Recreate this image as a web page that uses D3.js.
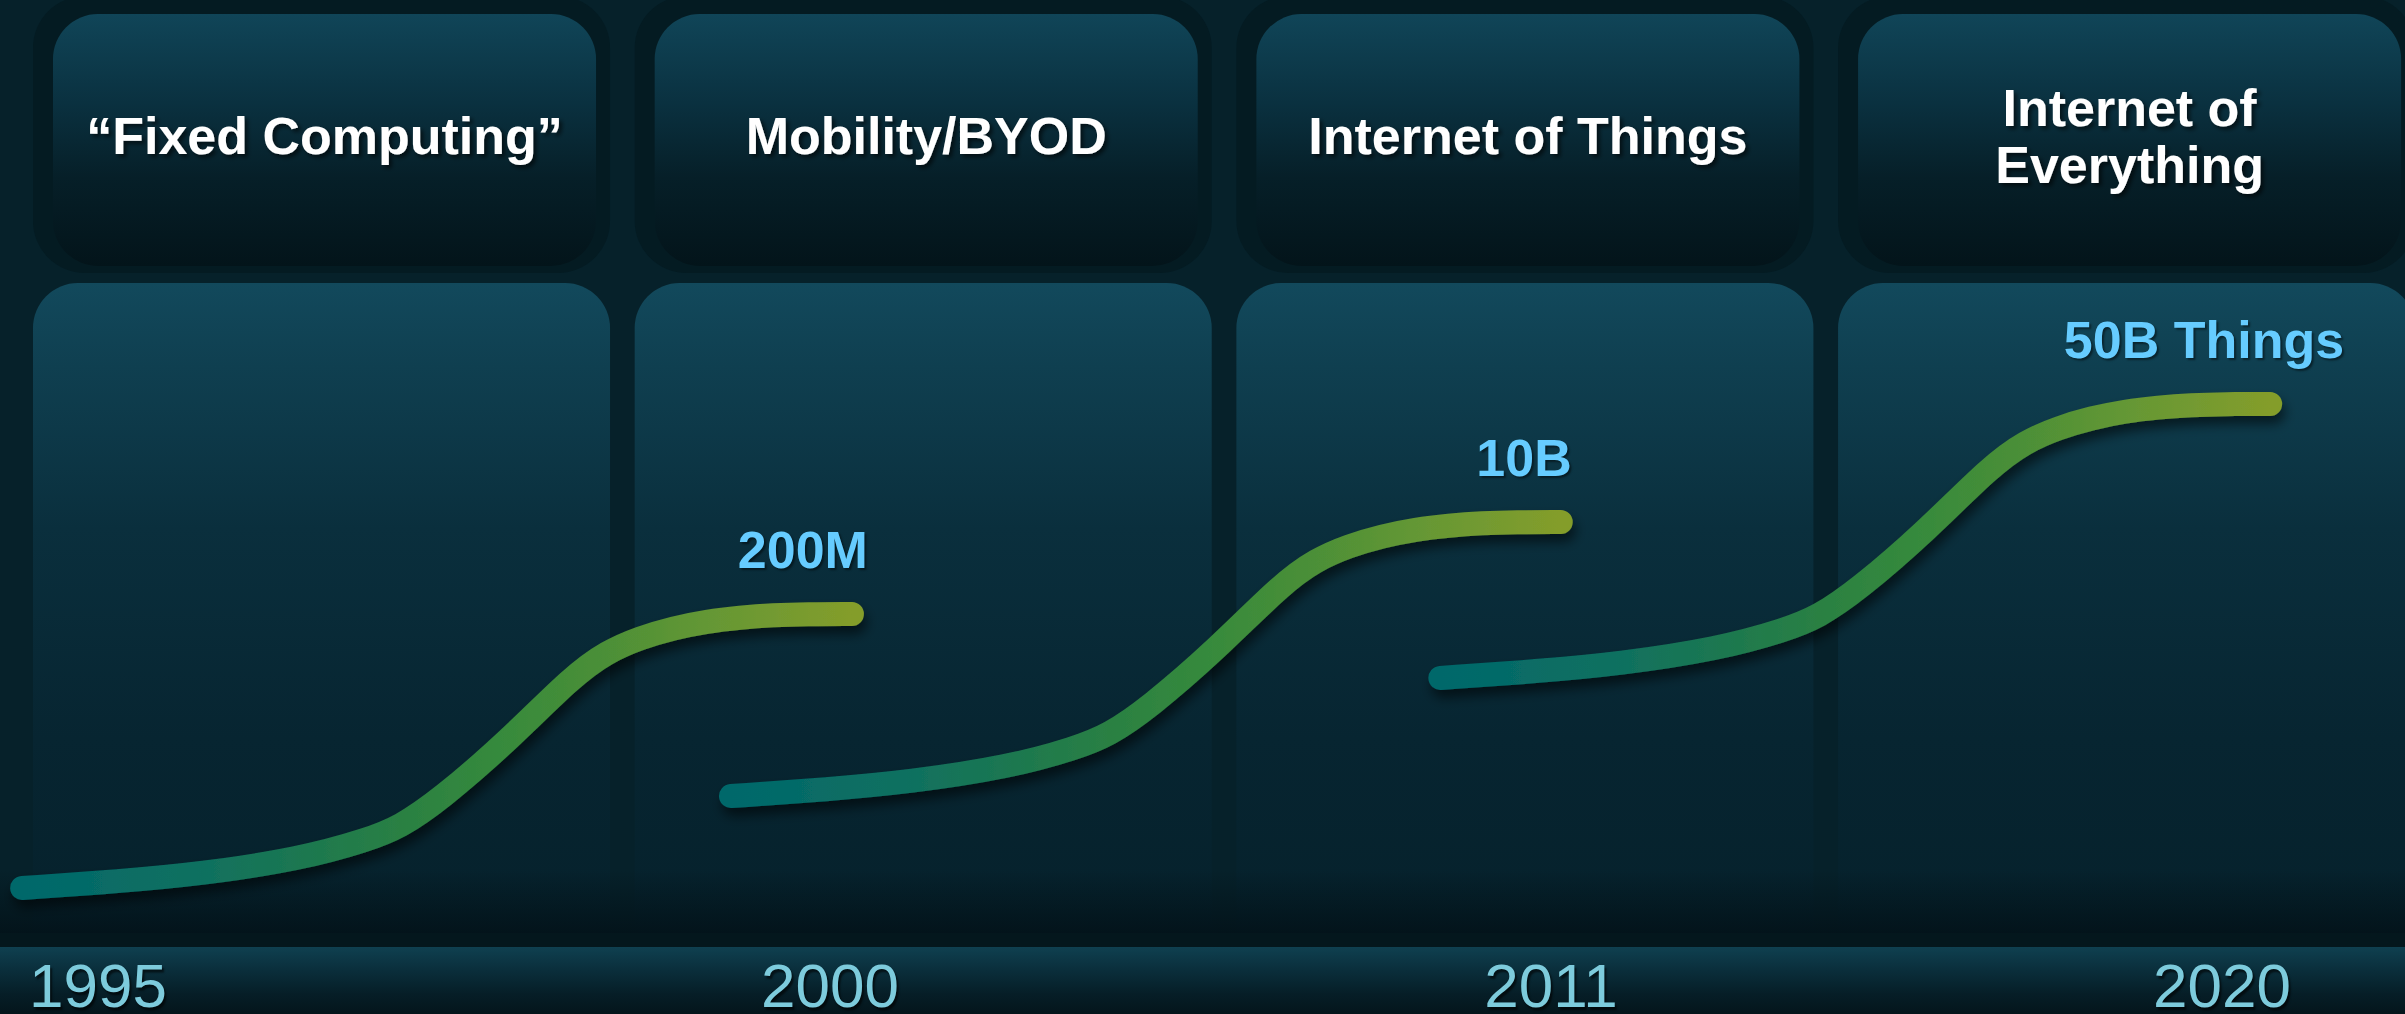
<!DOCTYPE html>
<html>
<head>
<meta charset="utf-8">
<script src="https://cdn.jsdelivr.net/npm/d3@7"></script>
<style>
html, body { margin: 0; padding: 0; background: #06212a; overflow: hidden; }
svg { display: block; }
</style>
</head>
<body>
<svg id="viz"></svg>
<script>
var width = 2405;
var height = 1014;

// eras across the top, years along the bottom
var eras = ["\u201cFixed Computing\u201d", "Mobility/BYOD", "Internet of Things", "Internet of\nEverything"];
var years = [1995, 2000, 2011, 2020];
var valueLabels = ["200M", "10B", "50B Things"];

// growth curves, [era position, adoption level 0-100]
var curve1 = [[-0.018, 0], [0.145, 1.4], [0.278, 2.9], [0.444, 6.0], [0.555, 9.9], [0.610, 12.6], [0.676, 18.2],
    [0.788, 30.2], [0.897, 43.8], [0.954, 48.8], [1.009, 51.7], [1.064, 53.7], [1.120, 55.1], [1.175, 55.9],
    [1.230, 56.4], [1.286, 56.6], [1.361, 56.6]];
var curve2 = [[1.160, 19.0], [1.323, 20.4], [1.456, 21.9], [1.622, 25.0], [1.733, 28.9], [1.788, 31.6], [1.854, 37.2],
    [1.966, 49.2], [2.075, 62.8], [2.132, 67.8], [2.187, 70.7], [2.242, 72.7], [2.298, 74.1], [2.353, 74.9],
    [2.408, 75.4], [2.464, 75.6], [2.539, 75.6]];
var curve3 = [[2.339, 43.4], [2.502, 44.8], [2.635, 46.3], [2.801, 49.4], [2.912, 53.3], [2.967, 56.0], [3.033, 61.6],
    [3.145, 73.6], [3.254, 87.2], [3.311, 92.2], [3.366, 95.1], [3.421, 97.1], [3.477, 98.5], [3.532, 99.3],
    [3.587, 99.8], [3.643, 100], [3.718, 100]];
var curves = [curve1, curve2, curve3];

// label placement next to curve ends
var labelDx = [16, 11, 74];

var svg = d3.select("#viz")
    .attr("width", width)
    .attr("height", height);

var font = "'Liberation Sans', Arial, Helvetica, sans-serif";

var col = d3.scaleBand()
    .domain(eras)
    .range([33, 2415.1])
    .paddingInner(0.041)
    .paddingOuter(0);

var x = d3.scaleLinear()
    .domain([0, 4])
    .range([33, 33 + 4 * 601.7]);

var y = d3.scaleLinear()
    .domain([0, 100])
    .range([888, 404]);

var yearX = d3.scaleLinear()
    .domain(years)
    .range([98, 830, 1551, 2222]);

//defs
var defs = svg.append("defs");

function vGrad(id, stops) {
    var g = defs.append("linearGradient")
        .attr("id", id)
        .attr("x1", 0).attr("y1", 0).attr("x2", 0).attr("y2", 1);
    stops.forEach(function (s) {
        g.append("stop").attr("offset", s[0]).attr("stop-color", s[1]).attr("stop-opacity", s[2] == null ? 1 : s[2]);
    });
}

vGrad("cardGrad", [[0, "#104558"], [0.35, "#0a3140"], [0.65, "#061f28"], [1, "#03141a"]]);
vGrad("panelGrad", [[0, "#12495c"], [0.12, "#0f3f50"], [0.35, "#0a2f3d"], [0.65, "#072531"], [1, "#05202a"]]);
vGrad("fadeGrad", [[0, "#03131a", 0], [1, "#03131a", 0.95]]);
vGrad("bandGrad", [[0, "#0f4050"], [0.35, "#0a2e3b"], [0.7, "#061e27"], [1, "#04151b"]]);

var curveGrad = defs.append("linearGradient")
    .attr("id", "curveGrad")
    .attr("x1", 0).attr("y1", 0).attr("x2", 1).attr("y2", 0);
[[0, "#00686b"], [0.21, "#0f7060"], [0.33, "#1b7751"], [0.455, "#2a8043"], [0.575, "#368a3c"],
    [0.7, "#4b8f37"], [0.82, "#639735"], [1, "#849d2b"]].forEach(function (s) {
    curveGrad.append("stop").attr("offset", s[0]).attr("stop-color", s[1]);
});

var shadow = defs.append("filter").attr("id", "lineShadow")
    .attr("x", "-10%").attr("y", "-20%").attr("width", "130%").attr("height", "150%");
shadow.append("feDropShadow")
    .attr("dx", 3).attr("dy", 8).attr("stdDeviation", 6)
    .attr("flood-color", "#000").attr("flood-opacity", 0.55);

var textShadow = defs.append("filter").attr("id", "textShadow")
    .attr("x", "-10%").attr("y", "-30%").attr("width", "130%").attr("height", "170%");
textShadow.append("feDropShadow")
    .attr("dx", 3).attr("dy", 3).attr("stdDeviation", 2)
    .attr("flood-color", "#000").attr("flood-opacity", 0.6);

//background
svg.append("rect")
    .attr("width", width).attr("height", height)
    .attr("fill", "#06212a");

//top cards
var cards = svg.selectAll(".card")
    .data(eras)
    .enter().append("g")
    .attr("class", "card");

cards.append("rect")
    .attr("x", function (d) { return col(d); })
    .attr("y", -4)
    .attr("width", col.bandwidth())
    .attr("height", 277)
    .attr("rx", 52)
    .attr("fill", "#041b22");

cards.append("rect")
    .attr("x", function (d) { return col(d) + 20; })
    .attr("y", 14)
    .attr("width", col.bandwidth() - 34)
    .attr("height", 252)
    .attr("rx", 45)
    .attr("fill", "url(#cardGrad)");

//lower panels
svg.selectAll(".panel")
    .data(eras)
    .enter().append("rect")
    .attr("class", "panel")
    .attr("x", function (d) { return col(d); })
    .attr("y", 283)
    .attr("width", col.bandwidth())
    .attr("height", 700)
    .attr("rx", 45)
    .attr("fill", "url(#panelGrad)");

svg.append("rect")
    .attr("x", 0).attr("y", 870)
    .attr("width", width).attr("height", 63)
    .attr("fill", "url(#fadeGrad)");

svg.append("rect")
    .attr("x", 0).attr("y", 933)
    .attr("width", width).attr("height", 14)
    .attr("fill", "#04171d");

svg.append("rect")
    .attr("x", 0).attr("y", 947)
    .attr("width", width).attr("height", height - 947)
    .attr("fill", "url(#bandGrad)");

//header text
var heads = svg.selectAll(".head")
    .data(eras)
    .enter().append("text")
    .attr("class", "head")
    .attr("text-anchor", "middle")
    .attr("font-family", font)
    .attr("font-weight", "bold")
    .attr("font-size", 52)
    .attr("fill", "#ffffff")
    .attr("filter", "url(#textShadow)");

heads.each(function (d) {
    var lines = d.split("\n");
    var cx = col(d) + 20 + (col.bandwidth() - 34) / 2;
    var y0 = 154 - (lines.length - 1) * 57 / 2;
    d3.select(this).selectAll("tspan")
        .data(lines)
        .enter().append("tspan")
        .attr("x", cx)
        .attr("y", function (l, i) { return y0 + i * 57; })
        .text(function (l) { return l; });
});

//curves
var line = d3.line()
    .x(function (d) { return x(d[0]); })
    .y(function (d) { return y(d[1]); })
    .curve(d3.curveBasis);

svg.selectAll(".growth")
    .data(curves)
    .enter().append("path")
    .attr("class", "growth")
    .attr("d", line)
    .attr("fill", "none")
    .attr("stroke", "url(#curveGrad)")
    .attr("stroke-width", 24)
    .attr("stroke-linecap", "round")
    .attr("filter", "url(#lineShadow)");

//value labels
svg.selectAll(".value")
    .data(valueLabels)
    .enter().append("text")
    .attr("class", "value")
    .attr("text-anchor", "end")
    .attr("x", function (d, i) { var c = curves[i]; return x(c[c.length - 1][0]) + labelDx[i]; })
    .attr("y", function (d, i) { var c = curves[i]; return y(c[c.length - 1][1]) - 46; })
    .attr("font-family", font)
    .attr("font-weight", "bold")
    .attr("font-size", 52)
    .attr("fill", "#66ccff")
    .style("text-shadow", "2px 2px 2px rgba(0,0,0,0.45)")
    .text(function (d) { return d; });

//years
svg.selectAll(".year")
    .data(years)
    .enter().append("text")
    .attr("class", "year")
    .attr("text-anchor", "middle")
    .attr("x", function (d) { return yearX(d); })
    .attr("y", 1007)
    .attr("font-family", font)
    .attr("font-size", 62)
    .attr("fill", "#7dcbdc")
    .style("text-shadow", "2px 3px 2px rgba(0,0,0,0.6)")
    .text(function (d) { return d; });
</script>
</body>
</html>
